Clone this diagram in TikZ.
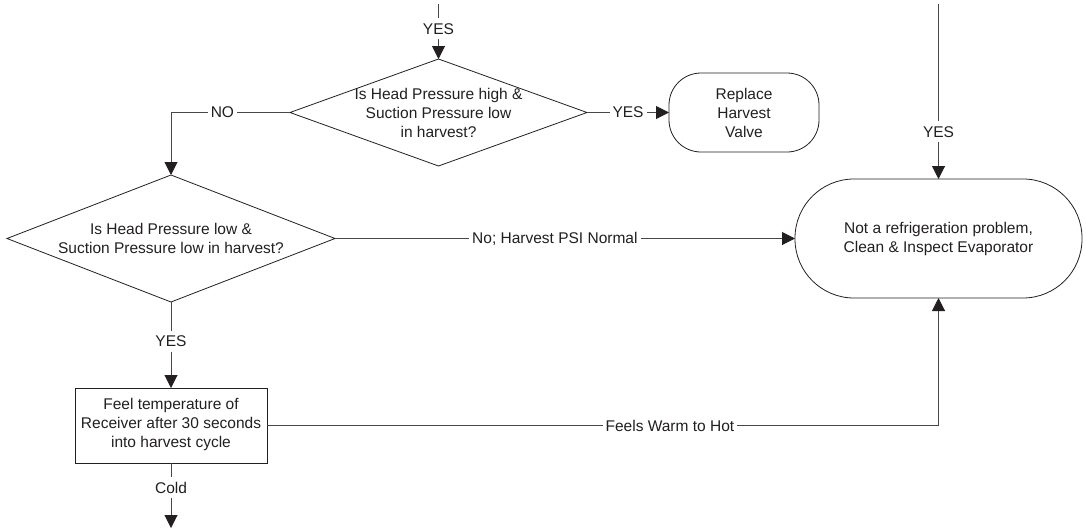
\documentclass[tikz,border=0pt]{standalone}
\usepackage{fontspec}
\setmainfont{Liberation Sans}
\usetikzlibrary{shapes.geometric,arrows.meta}
\definecolor{ink}{HTML}{231F20}
\tikzset{
  every node/.style={font=\fontsize{15.5}{19}\selectfont, text=ink},
  shp/.style={draw=ink, line width=0.8pt, outer sep=0pt, inner sep=0pt},
  dec/.style={shp, diamond},
  term/.style={shp, rectangle},
  proc/.style={shp, rectangle},
  txt/.style={align=center, inner sep=0pt},
  conn/.style={draw=black!72, line width=1pt, -{Triangle[length=13pt,width=13pt,color=ink]}},
  lbl/.style={fill=white, inner xsep=3pt, inner ysep=5pt}
}
\begin{document}
\begin{tikzpicture}[x=1pt,y=-1pt]
\useasboundingbox (0,0) rectangle (1086,530);
% shapes
\node[dec, minimum width=297pt, minimum height=107pt] (d1) at (438.5,112.5) {};
\node[txt] (d1t) at (d1) {Is Head Pressure high \&\\Suction Pressure low\\in harvest?};
\node[term, rounded corners=32pt, minimum width=150pt, minimum height=79pt] (rep) at (744,112.5) {};
\node[txt] (rept) at (rep) {Replace\\Harvest\\Valve};
\node[dec, minimum width=328pt, minimum height=127pt] (d2) at (171,238.5) {};
\node[txt] (d2t) at (d2) {Is Head Pressure low \&\\Suction Pressure low in harvest?};
\node[term, rounded corners=59pt, minimum width=287pt, minimum height=119pt] (nr) at (938.5,238.5) {};
\node[txt] (nrt) at (nr) {Not a refrigeration problem,\\Clean \& Inspect Evaporator};
\node[proc, minimum width=192pt, minimum height=75pt] (box) at (171,425.5) {};
\node[txt] (boxt) at ([yshift=1.5pt]box.center) {Feel temperature of\\Receiver after 30 seconds\\into harvest cycle};
% free ends
\coordinate (top1) at (438.5,4);
\coordinate (top2) at (938.5,4);
\coordinate (bot) at (171,528);
% connectors
\path[conn] (top1) -- node[lbl, pos=0.45] {YES} (d1.north);
\path[conn] (d1.east) -- node[lbl, pos=0.5] {YES} (rep.west);
\path[conn] (d1.west) -| node[lbl, pos=0.284] {NO} (d2.north);
\path[conn] (top2) -- node[lbl, pos=0.73] {YES} (nr.north);
\path[conn] (d2.east) -- node[lbl, pos=0.478] {No; Harvest PSI Normal} (nr.west);
\path[conn] (d2.south) -- node[lbl, pos=0.46] {YES} (box.north);
\path[conn] (box.east) -| node[lbl, pos=0.3] {Feels Warm to Hot} (nr.south);
\path[conn] (box.south) -- node[lbl, pos=0.38] {Cold} (bot);
\end{tikzpicture}
\end{document}
